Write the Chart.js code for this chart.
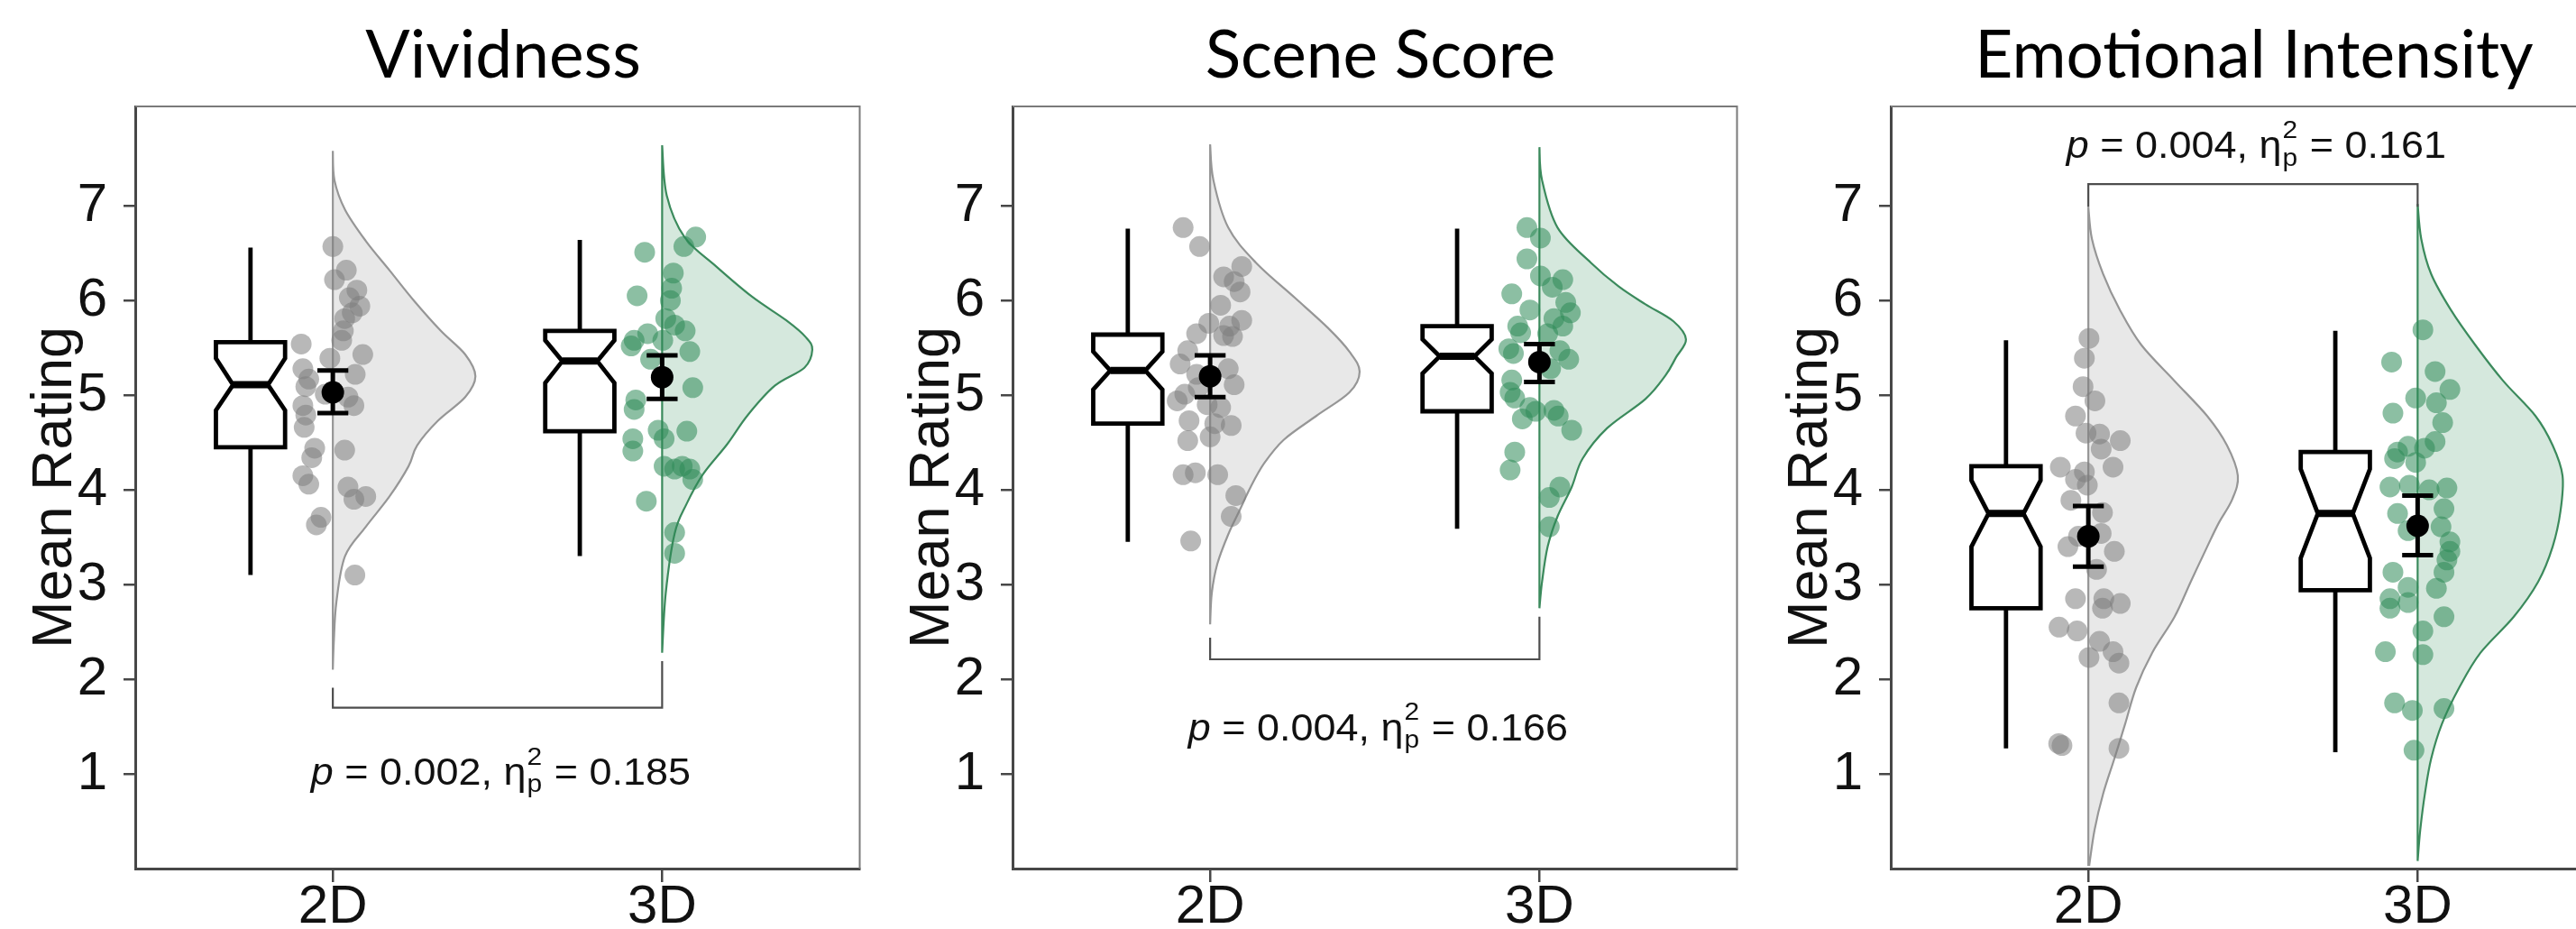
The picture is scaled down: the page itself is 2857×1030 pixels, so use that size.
<!DOCTYPE html>
<html>
<head>
<meta charset="utf-8">
<script src="https://cdn.jsdelivr.net/npm/chart.js@4.4.0/dist/chart.umd.min.js"></script>
<style>
  html, body { margin: 0; padding: 0; background: #fff; overflow: hidden; }
  body { width: 2857px; height: 1030px; position: relative; }
  canvas { position: absolute; top: 100px; }
  .title {
    position: absolute; top: 22px; transform: translateX(-50%);
    font-family: Lato, "Noto Sans", sans-serif; font-size: 73px; line-height: 73px;
    color: #000; white-space: nowrap;
  }
</style>
</head>
<body>
<div class="title" id="title0" style="left:558px"></div>
<div class="title" id="title1" style="left:1531px"></div>
<div class="title" id="title2" style="left:2500px"></div>
<canvas id="panel0" width="965" height="930" style="left:0px"></canvas>
<canvas id="panel1" width="965" height="930" style="left:973px"></canvas>
<canvas id="panel2" width="965" height="930" style="left:1947px"></canvas>
<script>
// ---------------------------------------------------------------
// Data
// ---------------------------------------------------------------
const groups = ['2D', '3D'];
const yTicks = [1, 2, 3, 4, 5, 6, 7];
const panelTitles = ['Vividness', 'Scene Score', 'Emotional Intensity'];

// participant ratings + horizontal jitter (x offset from the group)
const vivid2D = [6.57, 6.32, 6.22, 6.11, 6.03, 5.94, 5.87, 5.81, 5.68, 5.58, 5.54, 5.43, 5.39, 5.28, 5.22, 5.17, 5.09, 4.98, 5.01, 4.89, 4.89, 4.79, 4.66, 4.44, 4.42, 4.34, 4.15, 4.06, 4.03, 3.90, 3.93, 3.71, 3.63, 3.10];
const vivid2DJit = [0, 0.041, 0.005, 0.073, 0.050, 0.082, 0.059, 0.036, 0.032, 0.027, -0.096, 0.091, -0.009, -0.091, 0.068, -0.073, -0.082, 0.046, -0.023, 0.064, -0.091, -0.082, -0.087, -0.055, 0.036, -0.064, -0.091, -0.073, 0.046, 0.064, 0.100, -0.036, -0.050, 0.067];
const vivid3D = [6.67, 6.57, 6.51, 6.29, 6.13, 6.05, 6.00, 5.81, 5.74, 5.68, 5.65, 5.58, 5.52, 5.58, 5.46, 5.38, 5.08, 4.95, 4.85, 4.63, 4.62, 4.54, 4.54, 4.41, 4.25, 4.22, 4.25, 4.22, 4.11, 3.88, 3.55, 3.33];
const vivid3DJit = [0.102, 0.066, -0.053, 0.034, 0.029, -0.076, 0.025, 0.011, 0.038, 0.070, -0.044, -0.085, -0.094, 0.002, 0.084, -0.035, 0.093, -0.080, -0.085, -0.012, 0.075, 0.006, -0.089, -0.089, 0.006, 0.038, 0.061, 0.084, 0.093, -0.048, 0.038, 0.038];

const scene2D = [6.77, 6.57, 6.36, 6.25, 6.20, 6.09, 5.95, 5.79, 5.76, 5.73, 5.65, 5.63, 5.62, 5.47, 5.33, 5.28, 5.22, 5.11, 5.08, 4.94, 5.01, 4.90, 4.87, 4.73, 4.70, 4.68, 4.52, 4.56, 4.16, 4.18, 4.16, 3.94, 3.72, 3.46];
const scene2DJit = [-0.082, -0.032, 0.096, 0.041, 0.073, 0.091, 0.032, 0.096, -0.004, 0.059, -0.041, 0.041, 0.068, -0.068, -0.091, 0.055, -0.041, 0.073, -0.036, -0.100, -0.077, -0.009, 0.032, -0.064, 0.014, 0.064, -0.068, 0, -0.082, -0.045, 0.023, 0.078, 0.064, -0.059];
const scene3D = [6.77, 6.66, 6.44, 6.26, 6.22, 6.14, 6.07, 5.98, 5.90, 5.87, 5.81, 5.73, 5.73, 5.66, 5.65, 5.49, 5.47, 5.44, 5.38, 5.28, 5.16, 5.03, 4.97, 4.87, 4.83, 4.75, 4.84, 4.78, 4.63, 4.40, 4.21, 4.03, 3.92, 3.61];
const scene3DJit = [-0.038, 0.003, -0.038, 0.003, 0.071, 0.039, -0.084, 0.080, -0.029, 0.094, 0.044, 0.071, -0.066, -0.057, 0.025, -0.093, 0.062, -0.079, 0.089, 0.034, -0.084, -0.089, -0.075, -0.029, -0.011, -0.052, 0.044, 0.057, 0.098, -0.075, -0.089, 0.062, 0.030, 0.030];

const emo2D = [5.60, 5.39, 5.09, 4.94, 4.78, 4.60, 4.59, 4.52, 4.43, 4.24, 4.24, 4.19, 4.11, 4.05, 3.89, 3.76, 3.51, 3.40, 3.54, 3.35, 3.16, 2.85, 2.85, 2.80, 2.75, 2.55, 2.51, 2.40, 2.29, 2.23, 2.17, 1.75, 1.32, 1.30, 1.27];
const emo2DJit = [0.002, -0.012, -0.016, 0.020, -0.039, -0.007, 0.034, 0.097, 0.039, 0.075, -0.085, -0.012, -0.039, -0.003, -0.053, 0.043, -0.030, -0.062, 0.039, 0.079, 0.025, -0.039, 0.047, 0.097, 0.043, -0.089, -0.034, 0.034, 0.075, 0.002, 0.093, 0.093, -0.090, -0.080, 0.093];
const emo3D = [5.69, 5.35, 5.25, 5.06, 4.97, 4.92, 4.81, 4.71, 4.51, 4.46, 4.40, 4.33, 4.44, 4.29, 4.03, 4.05, 4.00, 4.02, 3.75, 3.80, 3.57, 3.61, 3.45, 3.35, 3.26, 3.13, 3.13, 2.97, 2.96, 2.85, 2.81, 2.75, 2.66, 2.51, 2.29, 2.26, 1.75, 1.67, 1.69, 1.25];
const emo3DJit = [0.016, -0.079, 0.053, 0.098, -0.006, 0.057, -0.075, 0.076, 0.053, -0.029, -0.061, -0.070, 0.021, -0.006, -0.084, -0.025, 0.035, 0.089, -0.061, 0.080, -0.029, 0.071, 0.098, 0.098, 0.089, 0.080, -0.075, -0.029, 0.057, -0.084, -0.029, -0.084, 0.080, 0.016, -0.098, 0.016, -0.070, -0.016, 0.080, -0.011];

// notched boxes: [whisker low, Q1, notch low, median, notch high, Q3, whisker high]
const vividBox2D = [3.10, 4.45, 4.84, 5.11, 5.39, 5.56, 6.56];
const vividBox3D = [3.30, 4.62, 5.13, 5.36, 5.58, 5.68, 6.64];
const sceneBox2D = [3.45, 4.70, 5.06, 5.26, 5.46, 5.64, 6.76];
const sceneBox3D = [3.59, 4.83, 5.23, 5.41, 5.59, 5.73, 6.76];
const emoBox2D = [1.27, 2.75, 3.40, 3.75, 4.10, 4.25, 5.58];
const emoBox3D = [1.23, 2.94, 3.28, 3.75, 4.22, 4.40, 5.68];

// group means with confidence interval [2D, 3D]
const vividMean = [5.03, 5.19], vividCiLow = [4.81, 4.96], vividCiHigh = [5.26, 5.42];
const sceneMean = [5.20, 5.35], sceneCiLow = [4.98, 5.14], sceneCiHigh = [5.42, 5.54];
const emoMean = [3.51, 3.62], emoCiLow = [3.19, 3.31], emoCiHigh = [3.83, 3.94];

// half-violin density: rating levels and half-width (x units)
const vividVioY2D = [7.58, 7.27, 6.96, 6.63, 6.32, 6.00, 5.68, 5.43, 5.20, 4.98, 4.73, 4.47, 4.25, 3.93, 3.61, 3.30, 2.82, 2.40, 2.10];
const vividVioW2D = [0, 0.005, 0.037, 0.100, 0.172, 0.246, 0.328, 0.402, 0.433, 0.402, 0.319, 0.256, 0.230, 0.172, 0.100, 0.037, 0.011, 0.003, 0];
const vividVioY3D = [7.64, 7.11, 6.67, 6.36, 6.04, 5.79, 5.61, 5.48, 5.29, 5.10, 4.79, 4.48, 4.16, 3.85, 3.54, 2.91, 2.28];
const vividVioW3D = [0, 0.014, 0.068, 0.164, 0.273, 0.377, 0.437, 0.456, 0.432, 0.342, 0.260, 0.197, 0.123, 0.074, 0.038, 0.011, 0];
const sceneVioY2D = [7.65, 7.27, 6.77, 6.40, 6.03, 5.71, 5.46, 5.25, 5.03, 4.78, 4.53, 4.28, 4.03, 3.78, 3.53, 3.22, 2.91, 2.58];
const sceneVioW2D = [0, 0.010, 0.055, 0.139, 0.257, 0.358, 0.423, 0.454, 0.423, 0.322, 0.224, 0.164, 0.123, 0.089, 0.055, 0.022, 0.005, 0];
const sceneVioY3D = [7.62, 7.27, 6.77, 6.40, 6.15, 5.96, 5.78, 5.59, 5.40, 5.21, 4.96, 4.65, 4.33, 4.03, 3.72, 3.40, 3.03, 2.75];
const sceneVioW3D = [0, 0.008, 0.055, 0.156, 0.240, 0.322, 0.407, 0.445, 0.415, 0.383, 0.322, 0.205, 0.131, 0.098, 0.055, 0.025, 0.008, 0];
const emoVioY2D = [6.99, 6.65, 6.28, 5.90, 5.53, 5.15, 4.78, 4.47, 4.15, 3.90, 3.65, 3.40, 3.03, 2.66, 2.28, 1.91, 1.53, 1.16, 0.79, 0.41, 0.04];
const emoVioW2D = [0, 0.011, 0.045, 0.096, 0.161, 0.262, 0.361, 0.421, 0.454, 0.437, 0.396, 0.361, 0.311, 0.262, 0.194, 0.145, 0.112, 0.079, 0.045, 0.019, 0.003];
const emoVioY3D = [7.02, 6.65, 6.28, 5.90, 5.53, 5.15, 4.78, 4.47, 4.15, 3.78, 3.40, 3.03, 2.66, 2.28, 1.91, 1.53, 1.16, 0.79, 0.41, 0.08];
const emoVioW3D = [0, 0.011, 0.041, 0.101, 0.175, 0.260, 0.358, 0.410, 0.440, 0.434, 0.410, 0.366, 0.292, 0.191, 0.126, 0.074, 0.041, 0.022, 0.008, 0];

// significance brackets and labels, one per panel
const pValues = ['0.002', '0.004', '0.004'];
const etaValues = ['0.185', '0.166', '0.161'];
const bracketY = [1.70, 2.21, 7.23];
const bracketTipLeft = [1.91, 2.44, 6.99];
const bracketTipRight = [2.19, 2.66, 6.99];
const statLabelY = [1.03, 1.50, 7.65];

// ---------------------------------------------------------------
// Style
// ---------------------------------------------------------------
const FONT = '"Liberation Sans", Arial, sans-serif';
const AXIS_COLOR = '#474747';
const GRAY = { fill: 'rgba(128,128,128,0.18)', line: '#969696', point: 'rgba(125,125,125,0.55)' };
const GREEN = { fill: 'rgba(46,139,87,0.20)', line: '#3b8a5c', point: 'rgba(46,139,87,0.55)' };
const BOX_OFFSET = -0.25, BOX_HALF = 0.105, NOTCH_HALF = 0.053, CAP_HALF = 0.047;
const STAT_STRETCH = 1.07;

function toPoints(vals, jit, g) {
  return vals.map((v, i) => ({ x: g + jit[i], y: v }));
}

// smooth curve through pixel points (catmull-rom -> bezier)
function curveThrough(ctx, p) {
  for (let i = 0; i < p.length - 1; i++) {
    const p0 = p[Math.max(i - 1, 0)], p1 = p[i], p2 = p[i + 1], p3 = p[Math.min(i + 2, p.length - 1)];
    ctx.bezierCurveTo(
      p1[0] + (p2[0] - p0[0]) / 6, p1[1] + (p2[1] - p0[1]) / 6,
      p2[0] - (p3[0] - p1[0]) / 6, p2[1] - (p3[1] - p1[1]) / 6,
      p2[0], p2[1]);
  }
}

function drawStat(ctx, cx, cy, pText, etaText) {
  const S = 42, s = 28;
  const segs = [
    { t: 'p', f: 'italic ' + S + 'px ' + FONT },
    { t: ' = ' + pText + ', ', f: S + 'px ' + FONT },
    { t: '\u03B7', f: S + 'px ' + FONT },
    { sup: '2', sub: 'p', f: s + 'px ' + FONT },
    { t: ' = ' + etaText, f: S + 'px ' + FONT }
  ];
  ctx.save();
  ctx.fillStyle = '#111';
  ctx.textBaseline = 'alphabetic';
  ctx.textAlign = 'left';
  let total = 0;
  segs.forEach(sg => {
    ctx.font = sg.f;
    sg.w = sg.t ? ctx.measureText(sg.t).width
      : Math.max(ctx.measureText(sg.sup).width, ctx.measureText(sg.sub).width) + 2;
    total += sg.w;
  });
  ctx.translate(cx, cy);
  ctx.scale(STAT_STRETCH, 1);
  const base = S * 0.36;
  let xx = -total / 2;
  segs.forEach(sg => {
    ctx.font = sg.f;
    if (sg.t) {
      ctx.fillText(sg.t, xx, base);
    } else {
      ctx.fillText(sg.sup, xx + 1, base - S * 0.53);
      ctx.fillText(sg.sub, xx + 1, base + S * 0.2);
    }
    xx += sg.w;
  });
  ctx.restore();
}

const raincloudPlugin = {
  id: 'raincloud',
  beforeDatasetsDraw(chart, args, opts) {
    const { ctx, scales: { x, y } } = chart;
    opts.violins.forEach((v, g) => {
      const base = g + 1;
      const col = g === 0 ? GRAY : GREEN;
      const pts = v.ys.map((yy, i) => [x.getPixelForValue(base + v.ws[i]), y.getPixelForValue(yy)]);
      ctx.save();
      ctx.beginPath();
      ctx.moveTo(pts[0][0], pts[0][1]);
      curveThrough(ctx, pts);
      ctx.lineTo(x.getPixelForValue(base), pts[pts.length - 1][1]);
      ctx.closePath();
      ctx.fillStyle = col.fill;
      ctx.fill();
      ctx.strokeStyle = col.line;
      ctx.lineWidth = 2.2;
      ctx.stroke();
      ctx.restore();
    });
  },
  afterDatasetsDraw(chart, args, opts) {
    const { ctx, chartArea, scales: { x, y } } = chart;
    ctx.save();
    ctx.lineCap = 'butt';
    ctx.strokeStyle = '#000';

    // notched boxes + whiskers
    opts.boxes.forEach((b, g) => {
      const c = g + 1 + BOX_OFFSET;
      const L = x.getPixelForValue(c - BOX_HALF), R = x.getPixelForValue(c + BOX_HALF);
      const nl = x.getPixelForValue(c - NOTCH_HALF), nr = x.getPixelForValue(c + NOTCH_HALF);
      const cx = x.getPixelForValue(c);
      const [wLo, q1, nLo, med, nHi, q3, wHi] = b.map(v => y.getPixelForValue(v));
      ctx.lineWidth = 4.8;
      ctx.beginPath();
      ctx.moveTo(cx, q3); ctx.lineTo(cx, wHi);
      ctx.moveTo(cx, q1); ctx.lineTo(cx, wLo);
      ctx.stroke();
      ctx.beginPath();
      ctx.moveTo(L, q3); ctx.lineTo(R, q3); ctx.lineTo(R, nHi); ctx.lineTo(nr, med);
      ctx.lineTo(R, nLo); ctx.lineTo(R, q1); ctx.lineTo(L, q1); ctx.lineTo(L, nLo);
      ctx.lineTo(nl, med); ctx.lineTo(L, nHi); ctx.closePath();
      ctx.fillStyle = '#fff';
      ctx.fill();
      ctx.lineJoin = 'miter';
      ctx.stroke();
      ctx.lineWidth = 8;
      ctx.beginPath();
      ctx.moveTo(nl, med); ctx.lineTo(nr, med);
      ctx.stroke();
    });

    // mean with error bars
    opts.mean.forEach((m, g) => {
      const cx = x.getPixelForValue(g + 1);
      const l = x.getPixelForValue(g + 1 - CAP_HALF), r = x.getPixelForValue(g + 1 + CAP_HALF);
      const lo = y.getPixelForValue(opts.ciLow[g]), hi = y.getPixelForValue(opts.ciHigh[g]);
      ctx.lineWidth = 5;
      ctx.beginPath();
      ctx.moveTo(cx, lo); ctx.lineTo(cx, hi);
      ctx.moveTo(l, lo); ctx.lineTo(r, lo);
      ctx.moveTo(l, hi); ctx.lineTo(r, hi);
      ctx.stroke();
      ctx.beginPath();
      ctx.arc(cx, y.getPixelForValue(m), 12.5, 0, Math.PI * 2);
      ctx.fillStyle = '#000';
      ctx.fill();
    });

    // significance bracket
    const bx1 = x.getPixelForValue(1), bx2 = x.getPixelForValue(2);
    const by = y.getPixelForValue(opts.bracket.y);
    ctx.strokeStyle = '#4d4d4d';
    ctx.lineWidth = 2.2;
    ctx.beginPath();
    ctx.moveTo(bx1, y.getPixelForValue(opts.bracket.tipLeft));
    ctx.lineTo(bx1, by); ctx.lineTo(bx2, by);
    ctx.lineTo(bx2, y.getPixelForValue(opts.bracket.tipRight));
    ctx.stroke();

    drawStat(ctx, x.getPixelForValue(1.51), y.getPixelForValue(opts.stat.y), opts.stat.p, opts.stat.eta);

    // top and right frame
    ctx.strokeStyle = '#7a7a7a';
    ctx.lineWidth = 2;
    ctx.beginPath();
    ctx.moveTo(chartArea.left, chartArea.top); ctx.lineTo(chartArea.right, chartArea.top);
    ctx.lineTo(chartArea.right, chartArea.bottom);
    ctx.stroke();
    ctx.restore();
  }
};

const panels = [
  { pts: [toPoints(vivid2D, vivid2DJit, 1), toPoints(vivid3D, vivid3DJit, 2)],
    violins: [{ ys: vividVioY2D, ws: vividVioW2D }, { ys: vividVioY3D, ws: vividVioW3D }],
    boxes: [vividBox2D, vividBox3D], mean: vividMean, ciLow: vividCiLow, ciHigh: vividCiHigh },
  { pts: [toPoints(scene2D, scene2DJit, 1), toPoints(scene3D, scene3DJit, 2)],
    violins: [{ ys: sceneVioY2D, ws: sceneVioW2D }, { ys: sceneVioY3D, ws: sceneVioW3D }],
    boxes: [sceneBox2D, sceneBox3D], mean: sceneMean, ciLow: sceneCiLow, ciHigh: sceneCiHigh },
  { pts: [toPoints(emo2D, emo2DJit, 1), toPoints(emo3D, emo3DJit, 2)],
    violins: [{ ys: emoVioY2D, ws: emoVioW2D }, { ys: emoVioY3D, ws: emoVioW3D }],
    boxes: [emoBox2D, emoBox3D], mean: emoMean, ciLow: emoCiLow, ciHigh: emoCiHigh }
];

panels.forEach((p, i) => {
  document.getElementById('title' + i).textContent = panelTitles[i];
  new Chart(document.getElementById('panel' + i), {
    type: 'scatter',
    data: {
      datasets: [
        { data: p.pts[0], backgroundColor: GRAY.point, borderWidth: 0, pointRadius: 11.5, pointHoverRadius: 11.5 },
        { data: p.pts[1], backgroundColor: GREEN.point, borderWidth: 0, pointRadius: 11.5, pointHoverRadius: 11.5 }
      ]
    },
    options: {
      responsive: false,
      animation: false,
      devicePixelRatio: 1,
      layout: { padding: { top: 18, right: 10, left: 0, bottom: 0 } },
      plugins: {
        legend: { display: false },
        tooltip: { enabled: false },
        raincloud: {
          violins: p.violins, boxes: p.boxes, mean: p.mean, ciLow: p.ciLow, ciHigh: p.ciHigh,
          bracket: { y: bracketY[i], tipLeft: bracketTipLeft[i], tipRight: bracketTipRight[i] },
          stat: { y: statLabelY[i], p: pValues[i], eta: etaValues[i] }
        }
      },
      scales: {
        x: {
          type: 'linear', min: 0.4, max: 2.6,
          afterBuildTicks: (s) => { s.ticks = groups.map((g, k) => ({ value: k + 1 })); },
          afterFit: (s) => { s.height = 67; s.paddingLeft = 0; s.paddingRight = 0; },
          ticks: {
            callback: (v) => groups[v - 1],
            font: { family: FONT, size: 60, lineHeight: 1 },
            color: '#111', padding: -2, maxRotation: 0, autoSkip: false
          },
          grid: { display: true, drawOnChartArea: false, drawTicks: true, tickLength: 15, color: AXIS_COLOR, lineWidth: 2.5 },
          border: { display: true, color: AXIS_COLOR, width: 3 }
        },
        y: {
          min: 0, max: 8.05,
          afterBuildTicks: (s) => { s.ticks = yTicks.map(v => ({ value: v })); },
          afterFit: (s) => { s.width = 150; s.paddingTop = 0; s.paddingBottom = 0; },
          ticks: { font: { family: FONT, size: 60, lineHeight: 1 }, color: '#111', padding: 18, autoSkip: false },
          grid: { display: true, drawOnChartArea: false, drawTicks: true, tickLength: 13, color: AXIS_COLOR, lineWidth: 2.5 },
          border: { display: true, color: AXIS_COLOR, width: 3 },
          title: { display: true, text: 'Mean Rating', color: '#111', font: { family: FONT, size: 63 }, padding: { top: 24, bottom: 0 } }
        }
      }
    },
    plugins: [raincloudPlugin]
  });
});
</script>
</body>
</html>
